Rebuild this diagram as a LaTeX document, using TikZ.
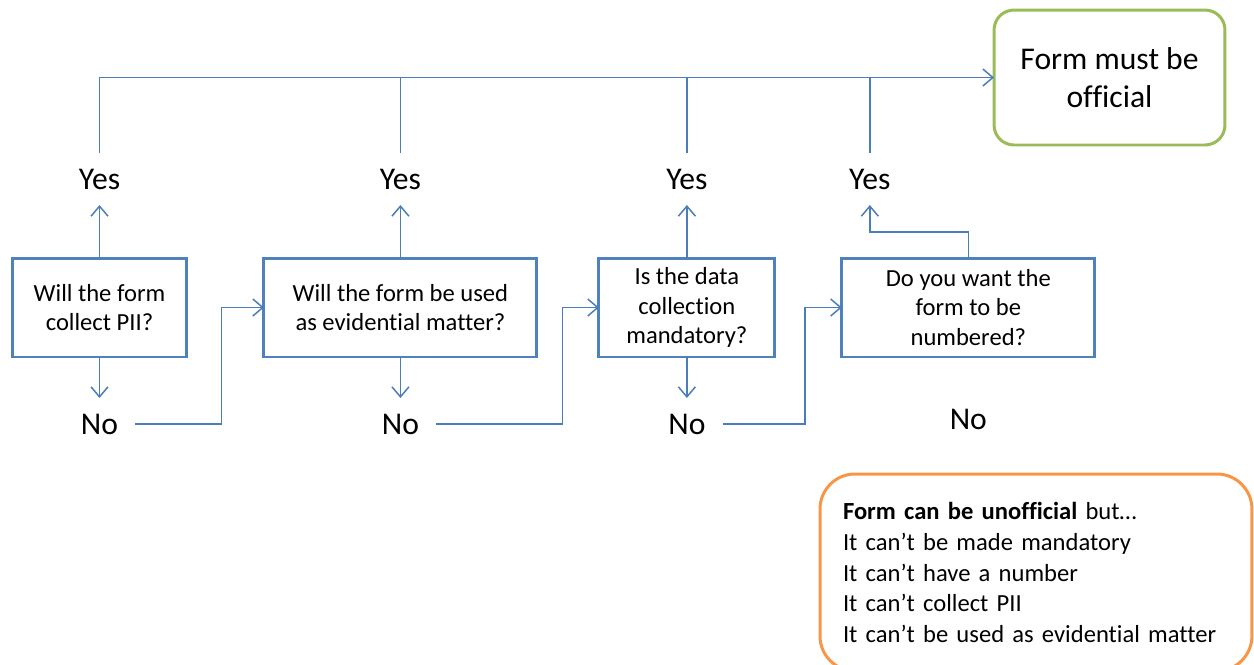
\documentclass[tikz,border=0pt]{standalone}
\usepackage{fontspec}
\setmainfont{Carlito}[Ligatures=NoCommon]
\usetikzlibrary{arrows.meta,positioning}

\definecolor{boxblue}{HTML}{4F81BD}
\definecolor{lineblue}{HTML}{4A7EBB}
\definecolor{okgreen}{HTML}{9BBB59}
\definecolor{warnorange}{HTML}{F79646}

\begin{document}
\begin{tikzpicture}[
  x=0.02cm, y=-0.02cm,
  question/.style={rectangle, draw=boxblue, line width=1.7pt, outer sep=0pt, minimum height=1.98cm, align=center, inner sep=2pt, font=\fontsize{14}{17}\selectfont},
  answer/.style={minimum width=1.44cm, minimum height=1.04cm, inner sep=0pt, outer sep=0pt, font=\fontsize{18}{22}\selectfont},
  outcome/.style={rectangle, line width=1.7pt, outer sep=0pt},
  link/.style={lineblue, line width=0.85pt},
  arrow/.style={link, -{Straight Barb[length=2mm,width=3.4mm]}}
]
  \clip (0,0) rectangle (1254,664);

  \node[question, minimum width=3.5cm] (pii) at (99.5,307.5) {Will the form\\collect PII?};
  \node[question, minimum width=5.46cm, right=1.54cm of pii] (evidence) {Will the form be used\\as evidential matter?};
  \node[question, minimum width=3.52cm, right=1.24cm of evidence] (mandatory) {Is the data\\collection\\mandatory?};
  \node[question, minimum width=5.06cm, right=1.34cm of mandatory] (numbered) {Do you want the\\form to be\\numbered?};

  \node[answer, above=1.06cm of pii] (yes1) {Yes};
  \node[answer, above=1.06cm of evidence] (yes2) {Yes};
  \node[answer, above=1.06cm of mandatory] (yes3) {Yes};
  \node[answer, above=1.06cm of numbered, xshift=-1.97cm] (yes4) {Yes};

  \node[answer, below=0.82cm of pii] (no1) {No};
  \node[answer, below=0.82cm of evidence] (no2) {No};
  \node[answer, below=0.82cm of mandatory] (no3) {No};
  \node[answer, below=0.72cm of numbered] (no4) {No};

  \node[outcome, draw=okgreen, rounded corners=0.4cm, minimum width=4.62cm, minimum height=2.7cm, align=center, font=\fontsize{18}{22}\selectfont] (official) at (1109.5,77.5) {Form must be\\official};
  \node[outcome, draw=warnorange, rounded corners=0.7cm, anchor=north west, minimum width=8.64cm, minimum height=3.94cm, inner xsep=0.46cm, text width=7.72cm, align=left, font=\fontsize{14}{17.5}\selectfont] (unofficial) at (820,474)
    {\textbf{Form can be unofficial} but…\\It can’t be made mandatory\\It can’t have a number\\It can’t collect PII\\It can’t be used as evidential matter};

  % yes branches
  \draw[arrow] (pii.north) -- (yes1.south);
  \draw[arrow] (evidence.north) -- (yes2.south);
  \draw[arrow] (mandatory.north) -- (yes3.south);
  \draw[arrow] (numbered.north) -- ++(0,-26) -| (yes4.south);

  \draw[arrow] (yes1.north) |- (official.west);
  \draw[link] (yes2.north) -- (yes2.north |- official.west);
  \draw[link] (yes3.north) -- (yes3.north |- official.west);
  \draw[link] (yes4.north) -- (yes4.north |- official.west);

  % no branches
  \draw[arrow] (pii.south) -- (no1.north);
  \draw[arrow] (evidence.south) -- (no2.north);
  \draw[arrow] (mandatory.south) -- (no3.north);

  \draw[arrow] (no1.east) -- ++(86,0) |- (evidence.west);
  \draw[arrow] (no2.east) -- ++(126,0) |- (mandatory.west);
  \draw[arrow] (no3.east) -- ++(82,0) |- (numbered.west);
\end{tikzpicture}
\end{document}
